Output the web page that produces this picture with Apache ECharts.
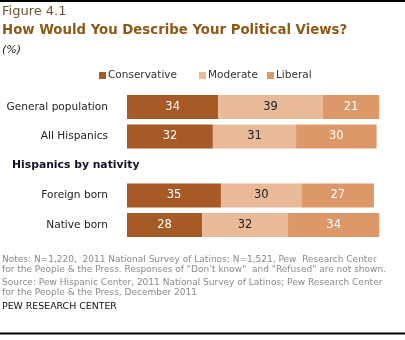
<!DOCTYPE html>
<html>
<head>
<meta charset="utf-8">
<script src="https://cdn.jsdelivr.net/npm/echarts@6/dist/echarts.min.js"></script>
<style>
  html, body { margin: 0; padding: 0; background: #fff; }
  #chart { width: 405px; height: 340px; }
</style>
</head>
<body>
<div id="chart"></div>
<script>
// Row labels; the empty slot in the middle holds the subgroup heading
const categories = ['General population', 'All Hispanics', '', 'Foreign born', 'Native born'];
const conservative = [34, 32, null, 35, 28];
const moderate = [39, 31, null, 30, 32];
const liberal = [21, 30, null, 27, 34];
const seriesNames = ['Conservative', 'Moderate', 'Liberal'];
const colors = ['#A65A26', '#E8BA98', '#DC9869'];
const labelColors = ['#ffffff', '#222222', '#ffffff'];
const legendLeft = [99, 199, 267];

const FONT = 'DejaVu Sans';
const chart = echarts.init(document.getElementById('chart'), null, { renderer: 'canvas' });

const values = [conservative, moderate, liberal];
const series = seriesNames.map((name, i) => ({
  name,
  type: 'bar',
  stack: 'total',
  barWidth: 24,
  data: values[i],
  itemStyle: { color: colors[i] },
  label: {
    show: true,
    position: 'inside',
    color: labelColors[i],
    fontFamily: FONT,
    fontSize: 11.5
  },
  emphasis: { disabled: true }
}));

// one legend per entry so each swatch sits at its own spot
const legends = seriesNames.map((name, i) => ({
  data: [name],
  left: legendLeft[i],
  top: 70,
  padding: 0,
  icon: 'rect',
  itemWidth: 7,
  itemHeight: 7,
  selectedMode: false,
  textStyle: { fontFamily: FONT, fontSize: 10.5, color: '#333', padding: [0, 0, 0, -3] }
}));

chart.setOption({
  animation: false,
  color: colors,
  legend: legends,
  grid: { left: 127, right: 9.6, top: 92.25, height: 147.5, containLabel: false },
  xAxis: {
    type: 'value',
    min: 0,
    max: 100,
    show: false
  },
  yAxis: {
    type: 'category',
    data: categories,
    inverse: true,
    axisLine: { show: false },
    axisTick: { show: false },
    splitLine: { show: false },
    axisLabel: { margin: 19, fontFamily: FONT, fontSize: 10.6, color: '#222' }
  },
  series,
  graphic: [
    { type: 'rect', shape: { x: 0, y: 0, width: 405, height: 2 }, style: { fill: '#000' } },
    { type: 'text', left: 2, top: 5, style: { text: 'Figure 4.1', fontFamily: FONT, fontSize: 13, fill: '#6b5530' } },
    { type: 'text', left: 2, top: 24, style: { text: 'How Would You Describe Your Political Views?', fontFamily: FONT, fontSize: 13.3, fontWeight: 'bold', fill: '#8C5A14' } },
    { type: 'text', left: 2, top: 45, style: { text: '(%)', fontFamily: FONT, fontSize: 11, fontStyle: 'italic', fill: '#222' } },
    { type: 'text', left: 12, top: 160, style: { text: 'Hispanics by nativity', fontFamily: FONT, fontSize: 10.8, fontWeight: 'bold', fill: '#10102a' } },
    { type: 'text', left: 2, top: 255, style: { text: 'Notes: N=1,220,  2011 National Survey of Latinos; N=1,521, Pew  Research Center\nfor the People & the Press. Responses of "Don\u2019t know"  and "Refused" are not shown.', fontFamily: FONT, fontSize: 9, lineHeight: 9.5, fill: '#8a8a8a' } },
    { type: 'text', left: 2, top: 278, style: { text: 'Source: Pew Hispanic Center, 2011 National Survey of Latinos; Pew Research Center\nfor the People & the Press, December 2011', fontFamily: FONT, fontSize: 9, lineHeight: 9.5, fill: '#8a8a8a' } },
    { type: 'text', left: 2, top: 302, style: { text: 'PEW RESEARCH CENTER', fontFamily: FONT, fontSize: 9.4, fill: '#111' } },
    { type: 'rect', shape: { x: 0, y: 332.5, width: 405, height: 2 }, style: { fill: '#000' } }
  ]
});
</script>
</body>
</html>
